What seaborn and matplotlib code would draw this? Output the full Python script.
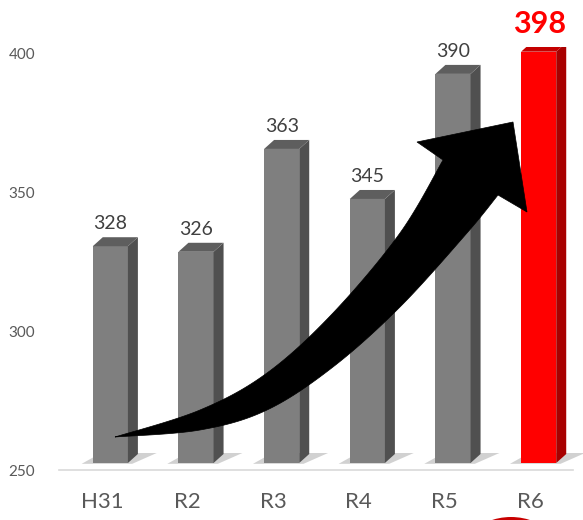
import numpy as np
import pandas as pd
import matplotlib
matplotlib.use("Agg")
import matplotlib.pyplot as plt
import matplotlib.transforms as mtransforms
from matplotlib.patches import Polygon, Ellipse
import seaborn as sns

categories = ["H31", "R2", "R3", "R4", "R5", "R6"]
values = [328, 326, 363, 345, 390, 398]
bar_colors = ["#7f7f7f", "#7f7f7f", "#7f7f7f", "#7f7f7f", "#7f7f7f", "#ff0000"]
side_colors = ["#505050"] * 5 + ["#a80000"]
top_colors = ["#5e5e5e"] * 5 + ["#c40000"]
yticks = [250, 300, 350, 400]

sns.set_theme(style="white")
plt.rcParams["font.family"] = ["Lato", "DejaVu Sans"]

W, H = 583, 520
YTOP = 402.2
fig = plt.figure(figsize=(W / 100, H / 100), dpi=100)
ax = fig.add_axes([59 / W, 50 / H, (573 - 59) / W, (470 - 47) / H])

df = pd.DataFrame({"cat": categories, "val": values})
sns.barplot(data=df, x="cat", y="val", hue="cat", palette=bar_colors,
            width=0.41, legend=False, ax=ax, saturation=1)

ax.set_ylim(250, YTOP)
ax.set_xlim(-0.5, 5.5)

fig.canvas.draw()
shift = mtransforms.offset_copy(ax.transData, fig=fig, x=8.5, y=7, units="dots")

px_x = 1 / (ax.bbox.width / 6.0)
px_y = 1 / (ax.bbox.height / (YTOP - 250))
dx, dy = 10 * px_x, 9 * px_y

for i, p in enumerate(ax.patches):
    v = values[i]
    x = p.get_x()
    w = p.get_width()
    base = 250
    p.set_y(base)
    p.set_height(v - base)
    p.set_transform(shift)
    p.set_edgecolor("none")
    p.set_zorder(3)
    p.set_clip_on(True)
    sh = Polygon([(x - 0.13, base - 0.3), (x + w + 0.05, base - 0.3),
                  (x + w + dx + 0.22, base + 3.6), (x + dx - 0.02, base + 3.6)],
                 closed=True, facecolor="#9a9a9a", alpha=0.45, edgecolor="none",
                 transform=shift, zorder=2, clip_on=False)
    ax.add_patch(sh)
    side = Polygon([(x + w, base), (x + w + dx, base + dy), (x + w + dx, v + dy), (x + w, v)],
                   closed=True, facecolor=side_colors[i], edgecolor="none",
                   transform=shift, zorder=3)
    top = Polygon([(x, v), (x + w, v), (x + w + dx, v + dy), (x + dx, v + dy)],
                  closed=True, facecolor=top_colors[i], edgecolor="none",
                  transform=shift, zorder=3)
    ax.add_patch(side)
    ax.add_patch(top)
    side.set_clip_box(ax.bbox)
    top.set_clip_box(ax.bbox)
    p.set_clip_box(ax.bbox)

for i, v in enumerate(values):
    if i == len(values) - 1:
        ax.annotate(str(v), (i, v), xytext=(9.5, 21), textcoords="offset pixels",
                    ha="center", va="bottom", fontsize=22, fontweight="bold",
                    color="#ff0000", zorder=6, annotation_clip=False)
    else:
        ax.annotate(str(v), (i, v), xytext=(8.5, 21), textcoords="offset pixels",
                    ha="center", va="bottom", fontsize=14, color="#404040",
                    zorder=6, annotation_clip=False)

for s in ["left", "top", "right"]:
    ax.spines[s].set_visible(False)
ax.spines["bottom"].set_color("#d9d9d9")
ax.spines["bottom"].set_linewidth(1.2)
ax.set_yticks(yticks)
ax.set_yticklabels([str(t) for t in yticks])
ax.tick_params(axis="y", length=0, pad=17, labelsize=11, labelcolor="#595959")
ax.set_xticks(range(len(categories)))
ax.set_xticklabels(categories)
ax.set_xticks(np.arange(-0.5, 6.0, 1.0), minor=True)
ax.tick_params(axis="x", which="major", length=0, pad=16, labelsize=16, labelcolor="#595959")
ax.tick_params(axis="x", which="minor", length=6, width=1.2, color="#d9d9d9", direction="out")
ax.set_xlabel("")
ax.set_ylabel("")
ax.grid(False)


def catmull(pts, n=20):
    pts = np.asarray(pts, float)
    P = np.vstack([pts[0], pts, pts[-1]])
    out = []
    for k in range(1, len(P) - 2):
        p0, p1, p2, p3 = P[k - 1], P[k], P[k + 1], P[k + 2]
        for t in np.linspace(0, 1, n, endpoint=False):
            t2, t3 = t * t, t * t * t
            out.append(0.5 * ((2 * p1) + (-p0 + p2) * t + (2 * p0 - 5 * p1 + 4 * p2 - p3) * t2
                              + (-p0 + 3 * p1 - 3 * p2 + p3) * t3))
    out.append(P[-2])
    return np.array(out)


upper = catmull([(115, 437), (200, 410), (267, 373), (333, 313), (400, 233), (443, 160)])
lower = catmull([(498, 195), (467, 233), (400, 307), (333, 367), (267, 410), (200, 430), (115, 437)])
head = np.array([(417, 142), (513, 122), (527, 212)])
poly = np.vstack([upper, head, lower])
poly_fig = np.column_stack([poly[:, 0] / W, 1 - poly[:, 1] / H])
arrow = Polygon(poly_fig, closed=True, facecolor="black", edgecolor="black", linewidth=0.5,
                transform=fig.transFigure, zorder=5, clip_on=False)
ax.add_patch(arrow)

circ = Ellipse((511 / W, 1 - 579 / H), 124 / W, 124 / H, facecolor="#c80000", edgecolor="none",
               transform=fig.transFigure, zorder=5, clip_on=False)
ax.add_patch(circ)

fig.savefig("out.png", dpi=100)
